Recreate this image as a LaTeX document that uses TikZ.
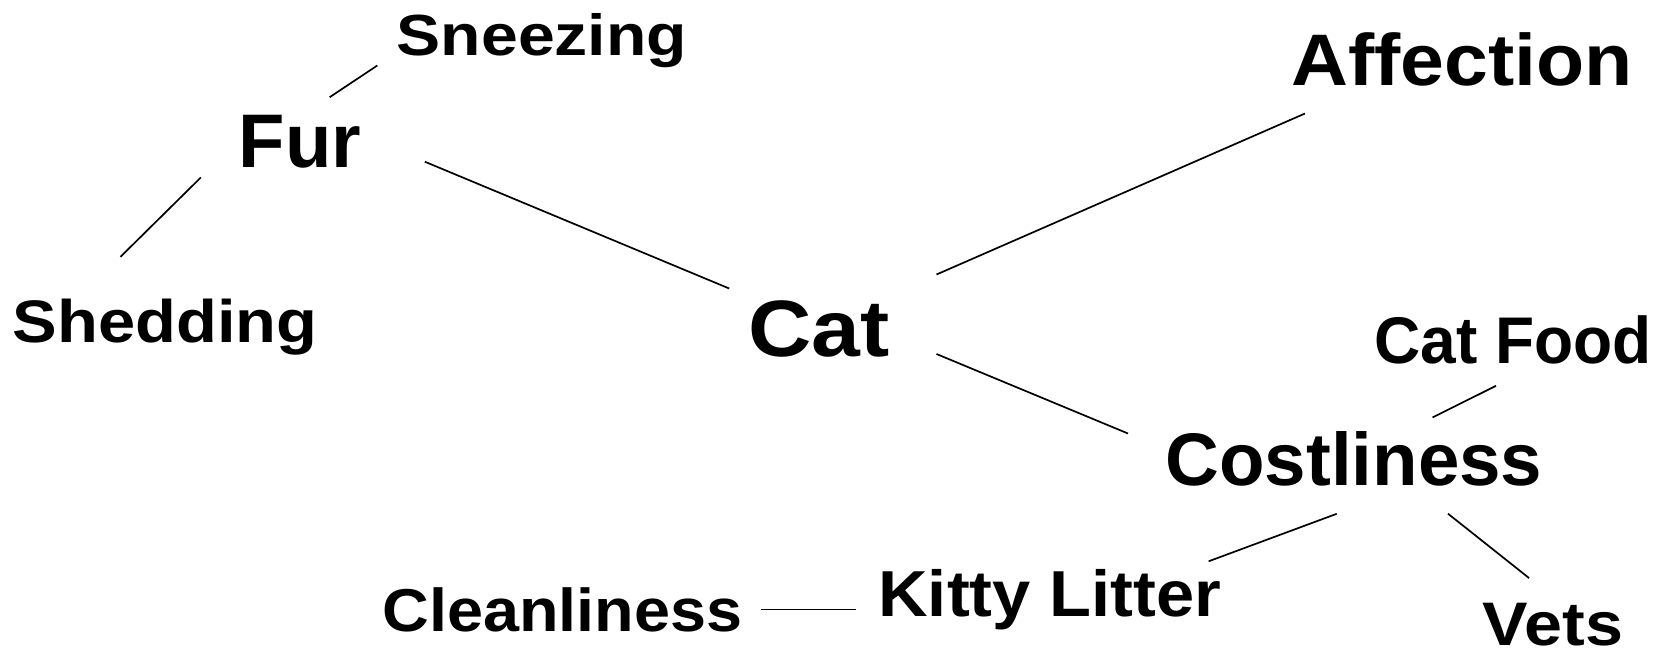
\documentclass[tikz,border=0pt]{standalone}
\usepackage{fontspec}
\setmainfont{Liberation Sans}
\usepackage{graphicx}
% label text: size, horizontal stretch, text
\newcommand\labtext[3]{\fontsize{#1}{#1}\selectfont\scalebox{#2}[1]{#3}}
\tikzset{
  word/.style={inner sep=0pt, outer sep=0pt, anchor=base, font=\bfseries},
  link/.style={line width=1.7pt, line cap=butt},
}
\begin{document}
\begin{tikzpicture}[x=1pt, y=-1pt]
  \fill[white] (0,0) rectangle (1657,653);
  \useasboundingbox (0,0) rectangle (1657,653);

  % concept labels
  \node[word] (sneezing)    at (542,55)     {\labtext{58}{1.14}{Sneezing}};
  \node[word] (fur)         at (300,167)    {\labtext{76}{1.0}{Fur}};
  \node[word] (shedding)    at (165,342)    {\labtext{60}{1.115}{Shedding}};
  \node[word] (cat)         at (819,356)    {\labtext{80}{1.096}{Cat}};
  \node[word] (affection)   at (1462,85)    {\labtext{73}{1.08}{Affection}};
  \node[word] (catfood)     at (1513,363.3) {\labtext{66}{0.97}{Cat Food}};
  \node[word] (costliness)  at (1354,485.7) {\labtext{74.5}{1.0}{Costliness}};
  \node[word] (vets)        at (1553,645)   {\labtext{61.5}{1.11}{Vets}};
  \node[word] (kitty)       at (1050,616.5) {\labtext{65}{1.056}{Kitty Litter}};
  \node[word] (cleanliness) at (562.5,631.7)  {\labtext{60.5}{1.07}{Cleanliness}};

  % connectors, ending short of the words
  \draw[link] ([shift={(29.7,-69.8)}]fur.base) -- ([shift={(-164.7,10.5)}]sneezing.base);
  \draw[link] ([shift={(-99.2,10.5)}]fur.base) -- ([shift={(-44.5,-85.2)}]shedding.base);
  \draw[link] ([shift={(124.8,-5.3)}]fur.base) -- ([shift={(-89.8,-67.5)}]cat.base);
  \draw[link] ([shift={(117.5,-81.5)}]cat.base) -- ([shift={(-157,28.5)}]affection.base);
  \draw[link] ([shift={(117.5,-2)}]cat.base) -- ([shift={(-226,-52.2)}]costliness.base);
  \draw[link] ([shift={(78.5,-68.2)}]costliness.base) -- ([shift={(-17,22.5)}]catfood.base);
  \draw[link] ([shift={(-17.3,28.1)}]costliness.base) -- ([shift={(158.6,-55.2)}]kitty.base);
  \draw[link] ([shift={(94,28)}]costliness.base) -- ([shift={(-23.9,-66.9)}]vets.base);
  \draw[link] ([shift={(-193.9,-7)}]kitty.base) -- ([shift={(198.5,-22.2)}]cleanliness.base);
\end{tikzpicture}
\end{document}
